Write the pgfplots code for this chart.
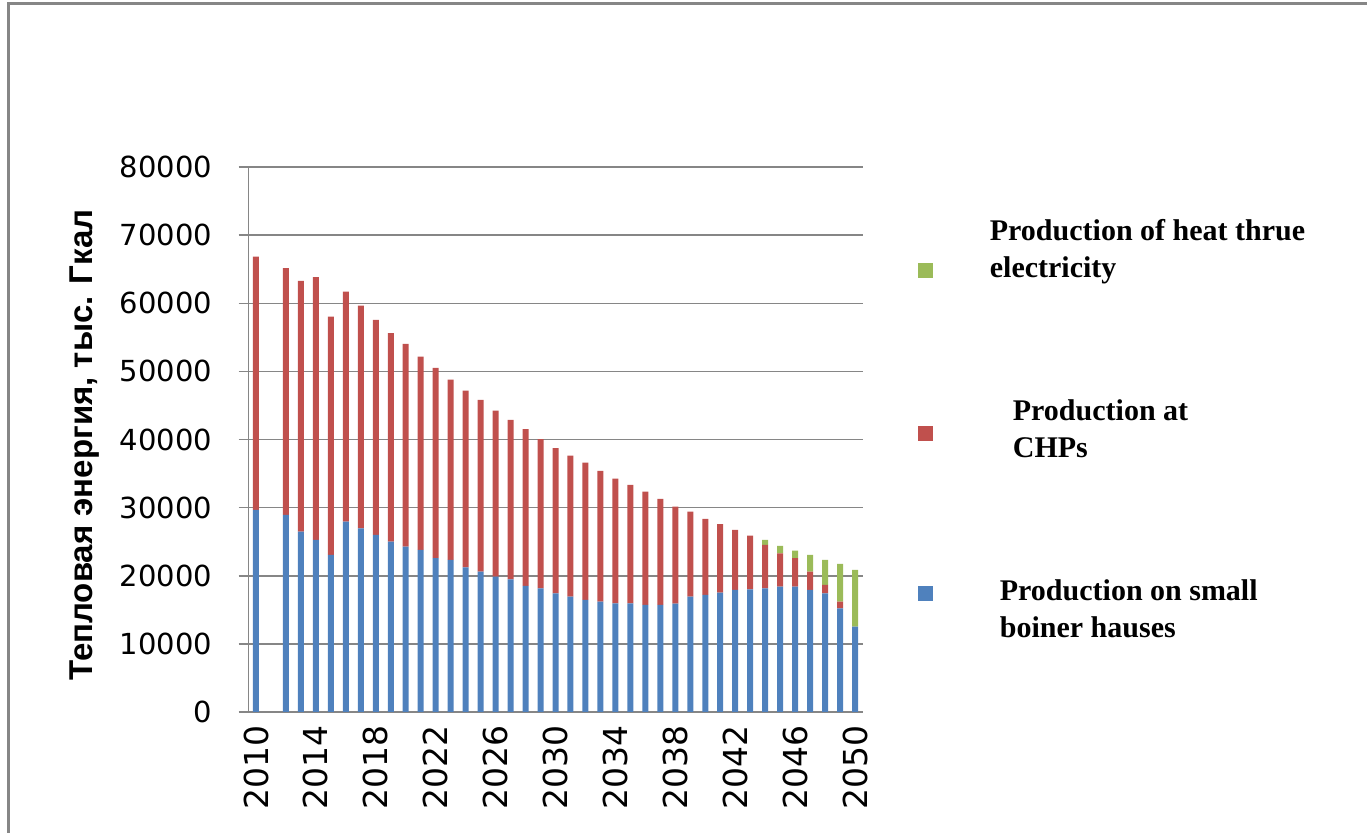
\documentclass[border=0pt]{standalone}
\usepackage{fontspec}
\setmainfont{DejaVu Sans}
\newfontfamily\labfont{Liberation Sans}
\newfontfamily\legfont{Liberation Serif}
\usepackage{pgfplots}
\pgfplotsset{compat=1.18}
\usepackage{pgfplotstable}

\definecolor{boilblue}{HTML}{4F81BD}
\definecolor{chpred}{HTML}{C0504D}
\definecolor{elgreen}{HTML}{9BBB59}
\definecolor{gridgray}{HTML}{868686}

% year, small boiler houses, CHPs, heat through electricity (2011 has no bar)
\pgfplotstableread{
year boil chp el
2010 29660 37200 0
2012 28930 36220 0
2013 26480 36810 0
2014 25260 38570 0
2015 23050 35000 0
2016 27950 33770 0
2017 26970 32700 0
2018 25990 31570 0
2019 25010 30600 0
2020 24280 29760 0
2021 23790 28380 0
2022 22570 27930 0
2023 22320 26480 0
2024 21240 25940 0
2025 20600 25210 0
2026 19870 24380 0
2027 19480 23400 0
2028 18500 23010 0
2029 18160 21880 0
2030 17430 21290 0
2031 16940 20700 0
2032 16450 20160 0
2033 16200 19190 0
2034 15960 18290 0
2035 15960 17370 0
2036 15710 16640 0
2037 15710 15570 0
2038 15900 14250 0
2039 16940 12470 0
2040 17180 11160 0
2041 17520 10040 0
2042 17910 8820 0
2043 18010 7880 0
2044 18160 6360 740
2045 18400 4900 1080
2046 18400 4170 1120
2047 17910 2690 2450
2048 17430 1220 3670
2049 15220 980 5530
2050 12530 0 8320
}\heatdata

\begin{document}
\begin{tikzpicture}
\useasboundingbox (0,0) rectangle (1367bp,833bp);
\draw[gridgray, line width=3bp] (8bp,0) -- (8bp,829bp) -- (1367bp,829bp);
\begin{axis}[
    at={(248.5bp,121bp)}, anchor=south west,
    width=614bp, height=545bp, scale only axis,
    ybar stacked, bar width=6bp,
    xmin=2009.5, xmax=2050.5,
    ymin=0, ymax=80000,
    ytick={0,10000,...,80000},
    xtick={2010,2014,...,2050},
    minor xtick={2009.5,2010.5,...,2050.5},
    axis x line*=bottom, axis y line*=left,
    axis line style={gridgray, line width=1.5bp},
    tick align=outside,
    major tick length=10bp, minor tick length=10bp,
    xtick style={draw=none},
    minor tick style={gridgray, line width=1.2bp},
    ytick style={gridgray, line width=1.5bp},
    ymajorgrids,
    major grid style={gridgray, line width=1.5bp},
    scaled y ticks=false,
    /pgf/number format/assume math mode=true,
    /pgf/number format/1000 sep={},
    yticklabel style={font=\fontsize{29bp}{34bp}\selectfont, xshift=-23bp},
    xticklabel style={font=\fontsize{33bp}{38bp}\selectfont, rotate=90, anchor=east, inner sep=3bp},
    ylabel={Тепловая энергия, тыс. Гкал},
    every axis y label/.style={at={(axis description cs:-0.267,0.49)}, rotate=90, anchor=center,
        font=\labfont\bfseries\fontsize{33bp}{38bp}\selectfont},
    reverse legend,
    legend style={at={(axis description cs:1.085,0.921)}, anchor=north west,
        draw=none, fill=none, row sep=112bp, column sep=55bp,
        font=\legfont\bfseries\fontsize{30bp}{37bp}\selectfont},
    legend cell align=left,
]
\addplot[fill=boilblue, draw=none,
    legend image code/.code={\fill[boilblue] (0bp,-12bp) rectangle (15bp,3bp);}]
    table[x=year, y=boil] {\heatdata};
\addlegendentry{\begin{tabular}[t]{@{\hspace{10bp}}l@{}}Production on small\\boiner hauses\end{tabular}}
\addplot[fill=chpred, draw=none,
    legend image code/.code={\fill[chpred] (0bp,-14bp) rectangle (15bp,1bp);}]
    table[x=year, y=chp] {\heatdata};
\addlegendentry{\begin{tabular}[b]{@{\hspace{23bp}}l@{}}Production at\\CHPs\end{tabular}}
\addplot[fill=elgreen, draw=none,
    legend image code/.code={\fill[elgreen] (0bp,-32bp) rectangle (15bp,-17bp);}]
    table[x=year, y=el] {\heatdata};
\addlegendentry{\begin{tabular}[b]{@{}l@{}}Production of heat thrue\\electricity\end{tabular}}
\end{axis}
\end{tikzpicture}
\end{document}
